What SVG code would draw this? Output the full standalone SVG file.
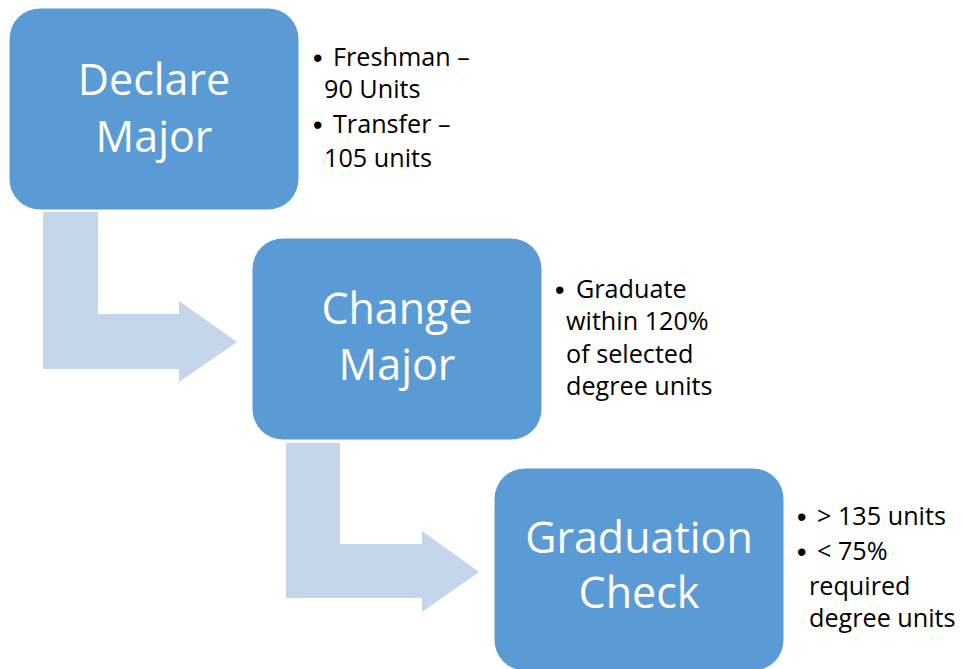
<svg xmlns="http://www.w3.org/2000/svg" width="964" height="669" viewBox="0 0 964 669">
<style>
.box{fill:#5B9BD5;stroke:#FFFFFF;stroke-width:1}
.arrow{fill:#C5D5EA}
.title{font-family:"Open Sans","Liberation Sans",sans-serif;font-size:43px;fill:#FFFFFF;text-anchor:middle}
.note{font-family:"Open Sans","Liberation Sans",sans-serif;font-size:25.2px;fill:#000000}
.bullet{font-family:"Liberation Sans","Open Sans",sans-serif;font-size:27px;fill:#000000}
</style>
<rect width="964" height="669" fill="#FFFFFF"/>
<g id="connectors">
<path class="arrow" d="M43,212 H98 V314 H179 V301 L237,342 L179,382 V369 H43 Z"/>
<path class="arrow" d="M286,443 H340 V544 H422 V531 L479,572 L422,612 V598 H286 Z"/>
</g>
<g id="node-declare">
<rect class="box" x="9" y="8" width="290" height="202" rx="31" ry="31"/>
<text class="title" x="154" y="95">Declare</text>
<text class="title" x="154" y="152">Major</text>
<text class="bullet" x="313" y="67">•</text>
<text class="note" x="333" y="66">Freshman –</text>
<text class="note" x="324" y="98">90 Units</text>
<text class="bullet" x="313" y="134">•</text>
<text class="note" x="333" y="133">Transfer –</text>
<text class="note" x="324" y="167">105 units</text>
</g>
<g id="node-change">
<rect class="box" x="252" y="238" width="290" height="202" rx="31" ry="31"/>
<text class="title" x="397" y="324">Change</text>
<text class="title" x="397" y="380">Major</text>
<text class="bullet" x="555" y="299">•</text>
<text class="note" x="576" y="298">Graduate</text>
<text class="note" x="566" y="330">within 120%</text>
<text class="note" x="566" y="363">of selected</text>
<text class="note" x="566" y="395">degree units</text>
</g>
<g id="node-graduation">
<rect class="box" x="494" y="468" width="290" height="203" rx="31" ry="31"/>
<text class="title" x="639" y="553">Graduation</text>
<text class="title" x="639" y="608">Check</text>
<text class="bullet" x="797" y="526">•</text>
<text class="note" x="817" y="525">&gt; 135 units</text>
<text class="bullet" x="797" y="561">•</text>
<text class="note" x="817" y="560">&lt; 75%</text>
<text class="note" x="809" y="595">required</text>
<text class="note" x="809" y="627">degree units</text>
</g>
</svg>
